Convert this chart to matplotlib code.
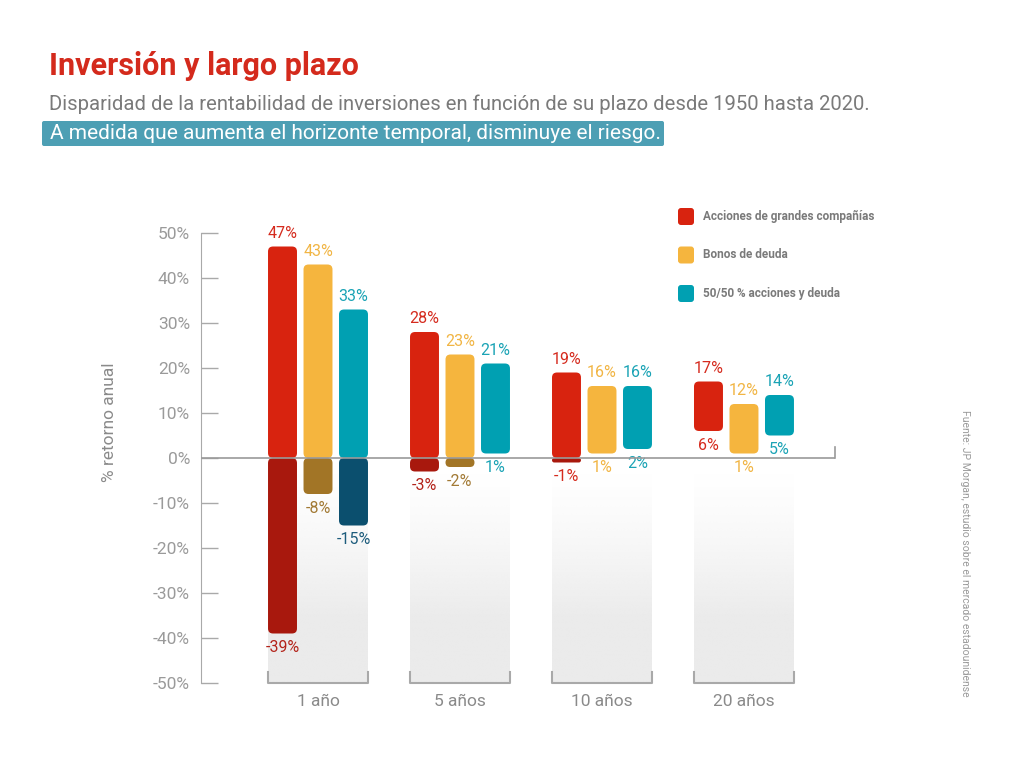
import numpy as np
import matplotlib.pyplot as plt
from matplotlib.patches import FancyBboxPatch

plt.rcParams['font.family'] = ['Roboto', 'DejaVu Sans']

# data
groups = ["1 año", "5 años", "10 años", "20 años"]
series = ["Acciones de grandes compañías", "Bonos de deuda", "50/50 % acciones y deuda"]
max_ret = [[47, 28, 19, 17],
           [43, 23, 16, 12],
           [33, 21, 16, 14]]
min_ret = [[-39, -3, -1, 6],
           [-8, -2, 1, 1],
           [-15, 1, 2, 5]]
yticks = [50, 40, 30, 20, 10, 0, -10, -20, -30, -40, -50]

bright = ["#d8230f", "#f5b53e", "#00a0b2"]
dark = ["#a8180d", "#a27526", "#0b4f6e"]
lab_hi = ["#d52b1e", "#f1b544", "#1aa3b5"]
lab_lo = ["#b3231a", "#a27a35", "#1d5c7c"]
grey = "#a9a9a9"

fig = plt.figure(figsize=(10.24, 7.68), dpi=100)
ax = fig.add_axes([201/1024, 85/768, 634/1024, 450/768])
ax.patch.set_visible(False)
ax.set_xlim(-0.824, 3.641)
ax.set_ylim(-50, 50)

px_x = 4.465 / 634   # data x per pixel
px_y = 100 / 450     # data y per pixel
aspect = px_y / px_x
bw = 0.204
off = 0.25
half = 0.352


def pill(x0, y0, y1, color):
    h = y1 - y0
    r = min(5 * px_x, (h / aspect) / 2)
    p = FancyBboxPatch((x0, y0), bw, h,
                       boxstyle=f"round,pad=0,rounding_size={r}",
                       mutation_aspect=aspect, fc=color, ec="none", zorder=3)
    ax.add_patch(p)


# grey gradient columns
grad = np.zeros((100, 1, 4))
grad[..., :3] = np.array([235, 235, 235]) / 255
t = np.linspace(0, 1, 100)[:, None]
grad[..., 3] = np.clip((1 - t) / 0.7, 0, 1) ** 1.3
for gi in range(len(groups)):
    ax.imshow(grad, extent=[gi - half, gi + half, -50, -3], aspect='auto',
              origin='lower', zorder=1, interpolation='bilinear')

for si in range(3):
    for gi in range(len(groups)):
        x = gi + (si - 1) * off - bw / 2
        hi, lo = max_ret[si][gi], min_ret[si][gi]
        if lo < 0:
            pill(x, 0, hi, bright[si])
            pill(x, lo, 0, dark[si])
            lo_col = lab_lo[si]
        else:
            pill(x, lo, hi, bright[si])
            lo_col = lab_hi[si]
        if lo == -1:
            lo_col = lab_hi[si]
        ax.annotate(f"{hi}%", (x + bw / 2, hi), xytext=(0, 4), textcoords="offset points",
                    ha="center", va="bottom", color=lab_hi[si], fontsize=11.5)
        ax.annotate(f"{lo}%", (x + bw / 2, lo), xytext=(0, -5), textcoords="offset points",
                    ha="center", va="top", color=lo_col, fontsize=11.5)

# axes styling
for s in ["top", "right", "bottom"]:
    ax.spines[s].set_visible(False)
ax.spines["left"].set_color(grey)
ax.set_yticks(yticks, [f"{v}%" for v in yticks])
ax.tick_params(axis="y", direction="in", length=12, color=grey, width=1,
               labelcolor="#9a9a9a", labelsize=12.5, pad=8)
ax.set_xticks(range(len(groups)), groups)
ax.tick_params(axis="x", length=0, pad=8, labelcolor="#8a8a8a", labelsize=12.5)
ax.axhline(0, color="#9a9a9a", lw=1.2, zorder=4)
ax.plot([3.641, 3.641], [0, 2.5], color="#9a9a9a", lw=1.2, clip_on=False)
for gi in range(len(groups)):
    ax.plot([gi - half, gi - half, gi + half, gi + half], [-47.5, -50, -50, -47.5],
            color=grey, lw=1.5, clip_on=False, zorder=2)

# overlay for titles, legend, notes
ov = fig.add_axes([0, 0, 1, 1], zorder=-1)
ov.set_xlim(0, 1024)
ov.set_ylim(768, 0)
ov.axis("off")
ov.text(49, 66, "Inversión y largo plazo", color="#d42a1c", fontsize=22,
        fontweight="bold", va="center")
ov.text(49, 104, "Disparidad de la rentabilidad de inversiones en función de su plazo desde 1950 hasta 2020.",
        color="#7a7a7a", fontsize=14.6, va="center")
ov.add_patch(FancyBboxPatch((42, 121), 622, 25, boxstyle="round,pad=0,rounding_size=2",
                            fc="#4d9fb4", ec="none"))
ov.text(50, 133.5, "A medida que aumenta el horizonte temporal, disminuye el riesgo.",
        color="white", fontsize=15.0, va="center")
for i, name in enumerate(series):
    y = 216 + i * 38.5
    ov.add_patch(FancyBboxPatch((678, y - 8), 16, 17, boxstyle="round,pad=0,rounding_size=3",
                                fc=bright[i], ec="none"))
    ov.text(703, y, name, color="#7a7a7a", fontsize=8.5, fontweight="bold", va="center")
ov.text(110, 422, "% retorno anual", color="#8a8a8a", fontsize=12.5, rotation=90,
        ha="center", va="center")
ov.text(965, 553, "Fuente: JP Morgan, estudio sobre el mercado estadounidense",
        color="#9a9a9a", fontsize=7.5, rotation=270, ha="center", va="center")

fig.savefig("out.png", dpi=100, facecolor="white")
